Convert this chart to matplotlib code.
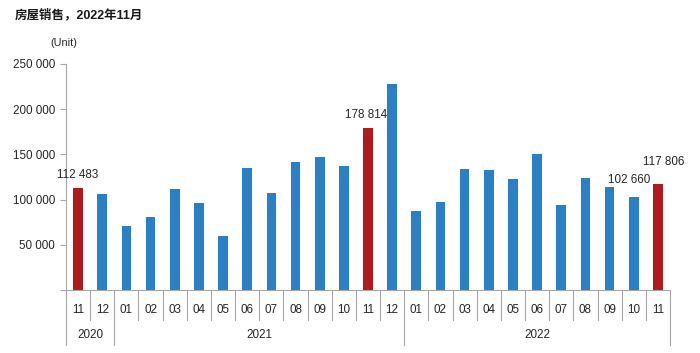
import numpy as np
import matplotlib.pyplot as plt
from matplotlib.transforms import blended_transform_factory

plt.rcParams['font.family'] = ['Liberation Sans', 'Noto Sans CJK SC', 'DejaVu Sans']

# data
months = ['11', '12', '01', '02', '03', '04', '05', '06', '07', '08', '09', '10', '11',
          '12', '01', '02', '03', '04', '05', '06', '07', '08', '09', '10', '11']
years = ['2020', '2021', '2022']
year_counts = [2, 12, 11]
sales = [112483, 106200, 70800, 80700, 111400, 95900, 59400, 134900, 107300, 141200,
         147100, 136800, 178814, 227500, 87700, 97000, 134200, 133100, 122800, 150100,
         94000, 123500, 113600, 102660, 117806]
highlight = [0, 12, 24]
labelled = {0: '112 483', 12: '178 814', 23: '102 660', 24: '117 806'}

blue = '#2980c6'
red = '#b01a1c'
txt = '#262626'
grey = '#a6a6a6'

fig = plt.figure(figsize=(7, 3.53), dpi=100)
ax = fig.add_axes([66/700, 1-290/353, 604/700, 226/353])

x = np.arange(len(sales))
colors = [red if i in highlight else blue for i in x]
ax.bar(x, sales, width=0.4, color=colors, zorder=2)

offsets = {0: (0, 5), 12: (-1, 5), 23: (-3, 8), 24: (4, 11)}
for i, s in labelled.items():
    ax.annotate(s, (x[i], sales[i]), xytext=offsets[i], textcoords='offset points',
                ha='center', va='bottom', fontsize=8.4, color=txt)

ax.set_xlim(-0.5, len(sales) - 0.5)
ax.set_ylim(0, 250000)
ax.set_yticks(np.arange(0, 250001, 50000))
ax.set_yticklabels([''] + ['{:,}'.format(v).replace(',', ' ') for v in range(50000, 250001, 50000)])
ax.tick_params(axis='y', length=4, width=0.8, color=grey, labelsize=8.4, labelcolor=txt, pad=4)
ax.set_xticks([])

for sp in ['top', 'right']:
    ax.spines[sp].set_visible(False)
ax.spines['left'].set_color(grey)
ax.spines['bottom'].set_color(grey)

# two-level category axis
tr = blended_transform_factory(ax.transData, ax.transAxes)
year_edges = np.cumsum([0] + year_counts) - 0.5
for i in range(len(sales) + 1):
    e = i - 0.5
    bottom = -0.243 if e in year_edges else -0.133
    ax.plot([e, e], [0, bottom], transform=tr, color=grey, lw=0.8, clip_on=False)
for i, m in enumerate(months):
    ax.text(i, -0.09, m, transform=tr, ha='center', va='center', fontsize=8.4, color=txt)
for k, y in enumerate(years):
    mid = (year_edges[k] + year_edges[k + 1]) / 2
    ax.text(mid, -0.201, y, transform=tr, ha='center', va='center', fontsize=8.4, color=txt)

fig.text(15/700, 1-15/353, '房屋销售，2022年11月', fontsize=9, fontweight='bold',
         color='#1a1a1a', ha='left', va='center')
fig.text(50/700, 1-43/353, '(Unit)', fontsize=7.8, color=txt, ha='left', va='center')

fig.savefig('out.png', dpi=100)
